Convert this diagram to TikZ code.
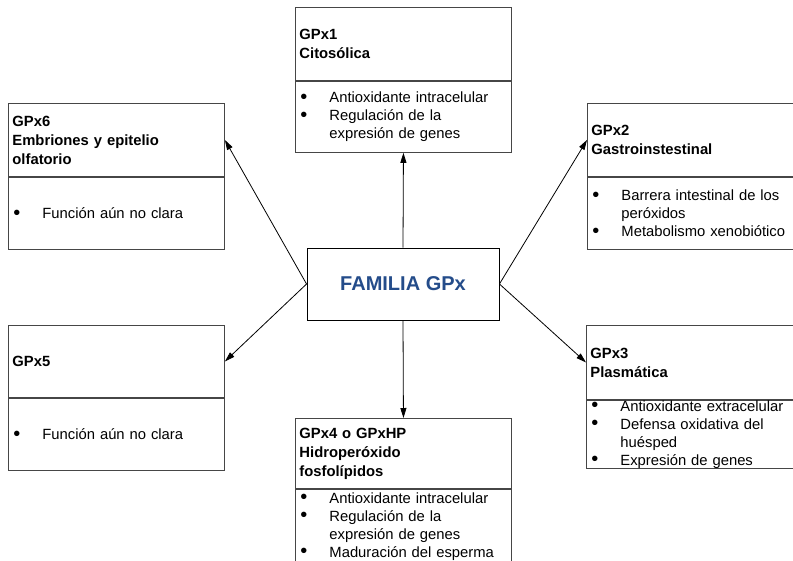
\documentclass[tikz,border=0pt]{standalone}
\usepackage{fontspec}
\setmainfont{Liberation Sans}
\usetikzlibrary{arrows.meta}
\definecolor{famblue}{RGB}{36,76,138}
\definecolor{boxline}{RGB}{70,70,70}
\newcommand{\bl}{\makebox[30pt][l]{\hspace{1pt}\raisebox{-0.6pt}{\scalebox{1.35}{\textbullet}}}}
\newcommand{\ind}{\hspace*{30pt}}
\begin{document}
\begin{tikzpicture}[x=1pt,y=-1pt,
  hdr/.style={draw=boxline, line width=0.9pt, rectangle, anchor=north west,
    text width=208pt, inner xsep=4pt, inner ysep=0pt, align=left,
    font=\fontsize{14.8}{19}\selectfont\bfseries},
  body/.style={draw=boxline, line width=0.9pt, rectangle, anchor=north,
    text width=208pt, inner xsep=4pt, inner ysep=0pt, align=left,
    font=\fontsize{14.8}{18}\selectfont},
  center/.style={draw=black, line width=0.9pt, rectangle, minimum width=192pt,
    minimum height=72pt, inner sep=0pt, text=famblue,
    font=\fontsize{20}{24}\selectfont\bfseries},
  arr/.style={-{Triangle[length=10pt,width=6pt]}, line width=0.8pt}]
\fill[white, use as bounding box] (0,0) rectangle (793,560);

\node[hdr, minimum height=73pt] (h1) at (295,7) {GPx1\\Citosólica};
\node[body, minimum height=71pt] (b1) at (h1.south) {\bl Antioxidante intracelular\\\bl Regulación de la\\\ind expresión de genes};

\node[hdr, minimum height=73pt] (h6) at (8,103) {GPx6\\Embriones y epitelio\\olfatorio};
\node[body, minimum height=72pt] (b6) at (h6.south) {\bl Función aún no clara};

\node[hdr, minimum height=73pt] (h2) at (587,103) {GPx2\\Gastroinstestinal};
\node[body, minimum height=72pt] (b2) at (h2.south) {\bl Barrera intestinal de los\\\ind peróxidos\\\bl Metabolismo xenobiótico};

\node[hdr, minimum height=72pt] (h5) at (8,325) {GPx5};
\node[body, minimum height=72pt] (b5) at (h5.south) {\bl Función aún no clara};

\node[hdr, minimum height=74pt] (h3) at (586,325) {GPx3\\Plasmática};
\node[body, minimum height=68pt] (b3) at (h3.south) {\bl Antioxidante extracelular\\\bl Defensa oxidativa del\\\ind huésped\\\bl Expresión de genes};

\node[hdr, minimum height=70pt] (h4) at (295,418) {GPx4 o GPxHP\\Hidroperóxido\\fosfolípidos};
\node[body, minimum height=74pt] (b4) at (h4.south) {\bl Antioxidante intracelular\\\bl Regulación de la\\\ind expresión de genes\\\bl Maduración del esperma};

\node[center] (c) at (403,284) {FAMILIA GPx};

\draw[arr] (c.north) -- (b1.south);
\draw[arr] (c.south) -- (h4.north);
\draw[arr] (c.west) -- (h6.east);
\draw[arr] (c.west) -- (h5.east);
\draw[arr] (c.east) -- (h2.west);
\draw[arr] (c.east) -- (h3.west);
\end{tikzpicture}
\end{document}
